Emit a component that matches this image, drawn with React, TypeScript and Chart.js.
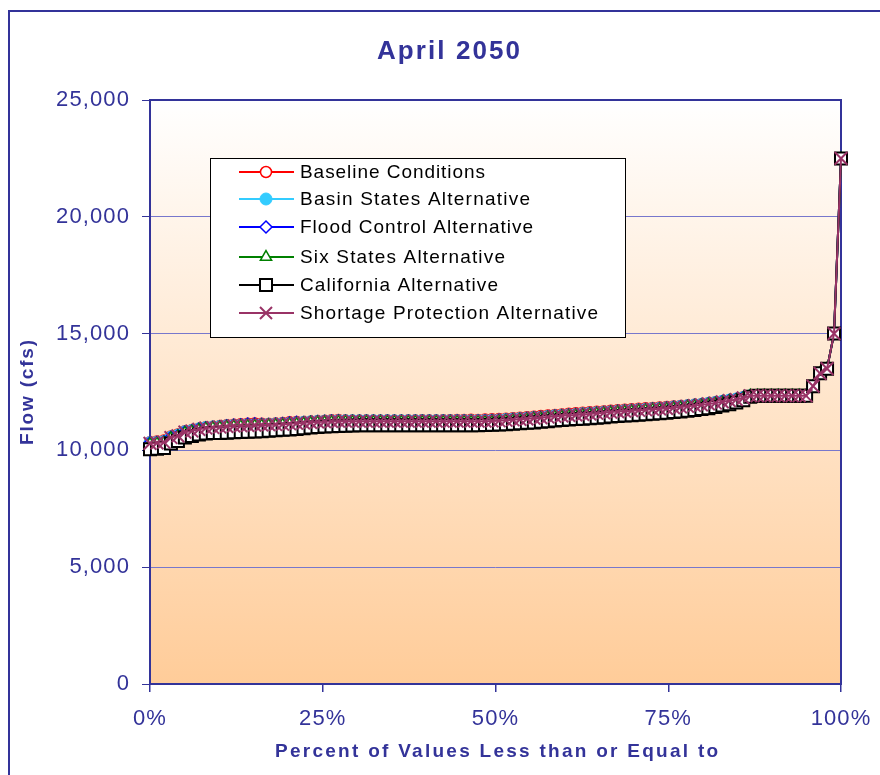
import React, { useEffect, useRef } from 'react';
import { Chart, registerables } from 'chart.js';
import { drawPoint } from 'chart.js/helpers';

Chart.register(...registerables);

const CHART_TITLE = 'April 2050';
const X_TITLE = 'Percent of Values Less than or Equal to';
const Y_TITLE = 'Flow (cfs)';

const SERIES_NAMES = [
  'Baseline Conditions',
  'Basin States Alternative',
  'Flood Control Alternative',
  'Six States Alternative',
  'California Alternative',
  'Shortage Protection Alternative',
];

const baseline = [
  10350, 10380, 10420, 10600, 10680, 10820, 10870, 10930, 10990, 11010,
  11040, 11080, 11100, 11120, 11140, 11150, 11140, 11130, 11150, 11170,
  11200, 11220, 11210, 11230, 11250, 11260, 11290, 11300, 11280, 11270,
  11270, 11280, 11270, 11270, 11280, 11270, 11270, 11280, 11280, 11290,
  11280, 11280, 11290, 11290, 11300, 11300, 11310, 11300, 11320, 11330,
  11340, 11360, 11380, 11400, 11420, 11440, 11470, 11490, 11520, 11540,
  11570, 11590, 11610, 11630, 11650, 11670, 11700, 11720, 11740, 11760,
  11780, 11800, 11820, 11840, 11860, 11880, 11900, 11920, 11950, 11980,
  12020, 12060, 12100, 12150, 12200, 12270, 12340, 12340, 12340, 12340,
  12340, 12340, 12340, 12340, 12340, 12750, 13300, 13500, 15000, 22500,
];

const basinStates = [
  10330, 10350, 10380, 10570, 10650, 10800, 10850, 10920, 10980, 11000,
  11020, 11050, 11070, 11080, 11100, 11100, 11110, 11120, 11130, 11140,
  11160, 11180, 11200, 11220, 11240, 11250, 11260, 11270, 11270, 11270,
  11270, 11270, 11270, 11270, 11270, 11270, 11270, 11270, 11270, 11270,
  11270, 11270, 11270, 11270, 11270, 11270, 11270, 11270, 11280, 11290,
  11300, 11320, 11340, 11360, 11380, 11400, 11420, 11450, 11480, 11500,
  11520, 11540, 11570, 11590, 11610, 11630, 11650, 11680, 11700, 11720,
  11740, 11760, 11780, 11800, 11820, 11850, 11880, 11910, 11940, 11970,
  12010, 12050, 12100, 12150, 12200, 12260, 12340, 12340, 12340, 12340,
  12340, 12340, 12340, 12340, 12340, 12750, 13300, 13500, 15000, 22500,
];

const floodControl = [
  10320, 10340, 10370, 10560, 10640, 10790, 10840, 10910, 10970, 10990,
  11010, 11050, 11080, 11100, 11130, 11140, 11120, 11110, 11130, 11150,
  11180, 11200, 11190, 11210, 11230, 11240, 11260, 11270, 11260, 11260,
  11260, 11260, 11260, 11260, 11260, 11260, 11260, 11260, 11260, 11260,
  11260, 11260, 11260, 11260, 11260, 11260, 11260, 11260, 11270, 11280,
  11290, 11300, 11320, 11340, 11360, 11390, 11410, 11440, 11470, 11490,
  11510, 11530, 11550, 11580, 11600, 11620, 11650, 11670, 11690, 11710,
  11730, 11750, 11770, 11790, 11810, 11840, 11870, 11900, 11930, 11960,
  12000, 12040, 12090, 12140, 12190, 12260, 12340, 12340, 12340, 12340,
  12340, 12340, 12340, 12340, 12340, 12750, 13300, 13500, 15000, 22500,
];

const sixStates = [
  10270, 10290, 10320, 10520, 10590, 10750, 10800, 10870, 10930, 10950,
  10970, 11000, 11020, 11030, 11040, 11050, 11060, 11070, 11080, 11090,
  11110, 11130, 11150, 11170, 11190, 11200, 11210, 11220, 11220, 11220,
  11220, 11220, 11220, 11220, 11220, 11220, 11220, 11220, 11220, 11220,
  11220, 11220, 11220, 11220, 11220, 11220, 11220, 11220, 11220, 11230,
  11240, 11260, 11280, 11300, 11320, 11350, 11370, 11400, 11430, 11450,
  11470, 11490, 11510, 11530, 11560, 11580, 11610, 11630, 11650, 11670,
  11690, 11710, 11730, 11750, 11770, 11800, 11830, 11860, 11890, 11920,
  11960, 12000, 12050, 12100, 12150, 12230, 12340, 12340, 12340, 12340,
  12340, 12340, 12340, 12340, 12340, 12750, 13300, 13500, 15000, 22500,
];

const california = [
  10050, 10070, 10100, 10300, 10400, 10550, 10620, 10680, 10720, 10740,
  10750, 10760, 10780, 10790, 10800, 10810, 10820, 10840, 10860, 10880,
  10900, 10920, 10950, 10980, 11000, 11020, 11030, 11050, 11060, 11070,
  11080, 11080, 11080, 11080, 11080, 11080, 11080, 11080, 11080, 11080,
  11080, 11080, 11080, 11080, 11080, 11080, 11080, 11080, 11090, 11100,
  11110, 11120, 11140, 11160, 11180, 11200, 11230, 11250, 11280, 11300,
  11320, 11340, 11360, 11380, 11400, 11420, 11450, 11470, 11490, 11510,
  11530, 11550, 11570, 11590, 11610, 11640, 11670, 11700, 11730, 11770,
  11810, 11860, 11920, 11980, 12050, 12150, 12300, 12340, 12340, 12340,
  12340, 12340, 12340, 12340, 12340, 12750, 13300, 13500, 15000, 22500,
];

const shortageProtection = [
  10300, 10320, 10350, 10550, 10620, 10780, 10830, 10900, 10960, 10980,
  11000, 11030, 11050, 11060, 11070, 11080, 11090, 11100, 11110, 11120,
  11140, 11160, 11180, 11200, 11220, 11230, 11240, 11250, 11250, 11250,
  11250, 11250, 11250, 11250, 11250, 11250, 11250, 11250, 11250, 11250,
  11250, 11250, 11250, 11250, 11250, 11250, 11250, 11250, 11250, 11260,
  11270, 11290, 11310, 11330, 11350, 11380, 11400, 11430, 11460, 11480,
  11500, 11520, 11540, 11560, 11590, 11610, 11640, 11660, 11680, 11700,
  11720, 11740, 11760, 11780, 11800, 11830, 11860, 11890, 11920, 11950,
  11990, 12030, 12080, 12130, 12180, 12250, 12340, 12340, 12340, 12340,
  12340, 12340, 12340, 12340, 12340, 12750, 13300, 13500, 15000, 22500,
];

const SERIES_VALUES = [baseline, basinStates, floodControl, sixStates, california, shortageProtection];

const STYLES = [
  { color: '#FF0000', point: 'circle', radius: 5.5, fill: '#FFFFFF', bw: 1.5 },
  { color: '#33CCFF', point: 'circle', radius: 6, fill: '#33CCFF', bw: 1 },
  { color: '#0000FF', point: 'rectRot', radius: 6, fill: '#FFFFFF', bw: 1.5 },
  { color: '#008000', point: 'triangle', radius: 6.5, fill: '#FFFFFF', bw: 1.5 },
  { color: '#000000', point: 'rect', radius: 8.5, fill: '#FFFFFF', bw: 2 },
  { color: '#993366', point: 'crossRot', radius: 9, fill: '#993366', bw: 2 },
];

const NAVY = '#333399';
const FONT = "'Liberation Sans', Arial, sans-serif";

function fitText(ctx: CanvasRenderingContext2D, text: string, left: number, y: number, width: number) {
  (ctx as any).letterSpacing = '0px';
  const nat = ctx.measureText(text).width;
  const sp = (width - nat) / Math.max(1, text.length - 1);
  (ctx as any).letterSpacing = sp.toFixed(2) + 'px';
  ctx.textAlign = 'left';
  ctx.fillText(text, left, y);
  (ctx as any).letterSpacing = '0px';
}

const LEGEND_WIDTHS = [185, 230, 233, 205, 198, 298];

const decorPlugin = {
  id: 'decor',
  beforeDraw(chart: any) {
    const { ctx, chartArea: a } = chart;
    ctx.save();
    const g = ctx.createLinearGradient(0, a.top, 0, a.bottom);
    g.addColorStop(0, '#FFFFFF');
    g.addColorStop(1, '#FFCC99');
    ctx.fillStyle = g;
    ctx.fillRect(a.left, a.top, a.right - a.left, a.bottom - a.top);
    ctx.strokeStyle = NAVY;
    ctx.lineWidth = 2;
    ctx.strokeRect(9, 11, 900, 800);
    ctx.restore();
    (ctx as any).letterSpacing = '1.1px';
  },
  beforeDatasetsDraw(chart: any) {
    const { ctx, chartArea: a } = chart;
    ctx.save();
    ctx.strokeStyle = NAVY;
    ctx.lineWidth = 2;
    ctx.strokeRect(a.left, a.top, a.right - a.left, a.bottom - a.top);
    ctx.restore();
  },
  afterDraw(chart: any) {
    const { ctx } = chart;
    ctx.save();
    ctx.fillStyle = NAVY;
    ctx.textBaseline = 'middle';
    ctx.font = `bold 26px ${FONT}`;
    fitText(ctx, CHART_TITLE, 377, 52, 143);
    ctx.font = `bold 19px ${FONT}`;
    fitText(ctx, X_TITLE, 275, 752, 443);
    ctx.save();
    ctx.translate(28, 393);
    ctx.rotate(-Math.PI / 2);
    fitText(ctx, Y_TITLE, -52, 0, 105);
    ctx.restore();

    ctx.fillStyle = '#FFFFFF';
    ctx.fillRect(210, 158, 415, 179);
    ctx.strokeStyle = '#000000';
    ctx.lineWidth = 1;
    ctx.strokeRect(210.5, 158.5, 415, 179);
    const ys = [172, 199, 227, 257, 285, 313];
    SERIES_NAMES.forEach((name, i) => {
      const s = STYLES[i];
      const y = ys[i];
      ctx.strokeStyle = s.color;
      ctx.lineWidth = 2;
      ctx.beginPath();
      ctx.moveTo(239, y);
      ctx.lineTo(294, y);
      ctx.stroke();
      ctx.fillStyle = s.fill;
      ctx.strokeStyle = s.color;
      ctx.lineWidth = s.bw;
      const r = s.point === 'rect' ? 8.5 : s.point === 'crossRot' ? 8.5 : s.radius;
      drawPoint(ctx, { pointStyle: s.point as any, radius: r, rotation: 0, borderWidth: s.bw }, 266, y);
      ctx.fillStyle = '#000000';
      ctx.font = `19px ${FONT}`;
      ctx.textBaseline = 'middle';
      fitText(ctx, name, 300, y + 1, LEGEND_WIDTHS[i]);
    });
    ctx.restore();
  },
};

export default function App() {
  const ref = useRef<HTMLCanvasElement | null>(null);
  useEffect(() => {
    if (!ref.current) return;
    const datasets = SERIES_NAMES.map((name, i) => {
      const s = STYLES[i];
      const vals = SERIES_VALUES[i];
      return {
        label: name,
        data: vals.map((v, k) => ({ x: (k * 100) / (vals.length - 1), y: v })),
        borderColor: s.color,
        backgroundColor: s.fill,
        borderWidth: 2,
        pointStyle: s.point,
        pointRadius: s.radius,
        pointBackgroundColor: s.fill,
        pointBorderColor: s.color,
        pointBorderWidth: s.bw,
        tension: 0,
        clip: false as any,
        order: SERIES_NAMES.length - i,
      };
    });
    const chart = new Chart(ref.current, {
      type: 'line',
      data: { datasets: datasets as any },
      plugins: [decorPlugin],
      options: {
        responsive: false,
        animation: false,
        devicePixelRatio: 1,
        layout: { padding: { top: 100, right: 39, left: 0, bottom: 0 } },
        plugins: { legend: { display: false }, title: { display: false }, tooltip: { enabled: false } },
        scales: {
          x: {
            type: 'linear',
            min: 0,
            max: 100,
            afterFit: (s: any) => { s.height = 91; s.paddingLeft = 0; s.paddingRight = 0; },
            ticks: {
              stepSize: 25,
              padding: 14,
              maxRotation: 0,
              color: NAVY,
              font: { family: FONT, size: 22 },
              callback: (v: any) => `${v}%`,
            },
            grid: { drawOnChartArea: false, drawTicks: true, tickLength: 8, tickColor: NAVY, lineWidth: 1.5 },
            border: { display: false },
          },
          y: {
            type: 'linear',
            min: 0,
            max: 25000,
            afterFit: (s: any) => { s.width = 150; s.paddingTop = 0; s.paddingBottom = 0; },
            ticks: {
              stepSize: 5000,
              padding: 12,
              color: NAVY,
              font: { family: FONT, size: 22 },
              callback: (v: any) => Number(v).toLocaleString('en-US'),
            },
            grid: {
              color: (c: any) => (c.tick && (c.tick.value === 0 || c.tick.value === 25000) ? 'rgba(0,0,0,0)' : '#7777CC'),
              tickColor: NAVY,
              tickLength: 8,
              lineWidth: 1,
            },
            border: { display: false },
          },
        },
      },
    });
    return () => chart.destroy();
  }, []);
  return (
    <div style={{ position: 'absolute', left: 0, top: 0, width: 880, height: 775, background: '#FFFFFF' }}>
      <canvas ref={ref} width={880} height={775} style={{ display: 'block', width: 880, height: 775 }} />
    </div>
  );
}
